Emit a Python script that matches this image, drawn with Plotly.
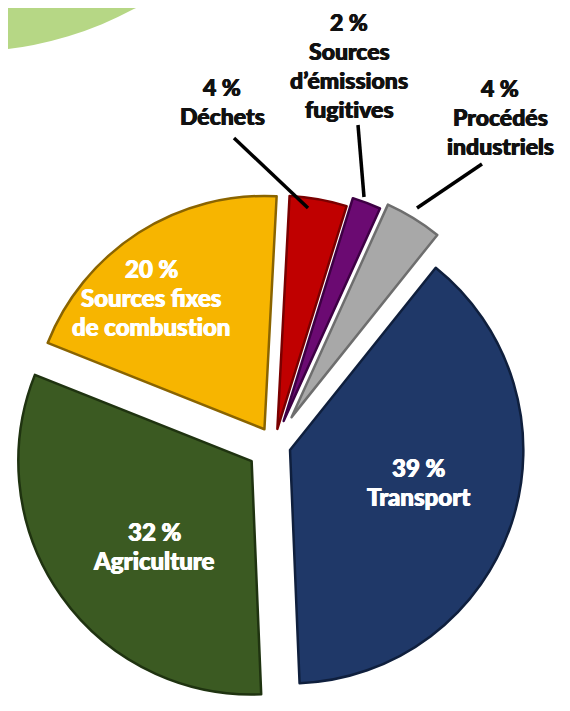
import plotly.graph_objects as go

# ---- data ----
categories = ["Déchets", "Sources d'émissions fugitives", "Procédés industriels",
              "Transport", "Agriculture", "Sources fixes de combustion"]
values = [4, 2, 4, 39, 32, 20]
ZW = "\u200c"  # zero-width non-joiner to avoid the "ti" ligature
label_lines = [
    ["4 %", "Déchets"],
    ["2 %", "Sources", "d’émissions", "fugit" + ZW + "ives"],
    ["4 %", "Procédés", "industriels"],
    ["39 %", "Transport"],
    ["32 %", "Agriculture"],
    ["20 %", "Sources fixes", "de combust" + ZW + "ion"],
]

# ---- style ----
colors = ["#c00000", "#6b0a72", "#a8a8a8", "#1f3868", "#3b5a22", "#f7b500"]
edge_colors = ["#7a0000", "#3e0044", "#6e6e6e", "#0f1f3d", "#1f3310", "#8a6400"]
pulls = [0.07, 0.11, 0.14, 0.07, 0.12, 0.08]
label_font_colors = ["#111111", "#111111", "#111111", "white", "white", "white"]
label_sizes = [23, 23, 23, 24, 24, 24]
# positions below are given in page pixels (the page body adds an 8px offset)
label_pos = [(222, 87), (349, 22), (500, 88), (418, 468), (154, 531), (151, 268)]
line_gap = 29
leader_lines = [((234, 138), (308, 208)), ((358, 125), (364, 197)), ((482, 164), (417, 208))]

OFF = 8
W, H = 570 - OFF, 711 - OFF
PIE_X = (OFF, 541)
PIE_Y = (179, 711)

def px(x, y):
    return (x - OFF) / W, 1 - (y - OFF) / H

fig = go.Figure()
fig.add_trace(go.Pie(
    labels=categories, values=values, sort=False, direction="clockwise", rotation=3,
    pull=pulls, textinfo="none", hoverinfo="label+percent",
    marker=dict(colors=colors, line=dict(color=edge_colors, width=2.5)),
    domain=dict(x=[px(PIE_X[0], 0)[0], px(PIE_X[1], 0)[0]],
                y=[max(0, px(0, PIE_Y[1])[1]), px(0, PIE_Y[0])[1]]),
    showlegend=False,
))

annotations = []
for lines, (cx, cy), fc, fs in zip(label_lines, label_pos, label_font_colors, label_sizes):
    for i, t in enumerate(lines):
        x, y = px(cx, cy + i * line_gap)
        annotations.append(dict(
            x=x, y=y, xref="paper", yref="paper", text=t, showarrow=False,
            xanchor="center", yanchor="middle",
            font=dict(family="Lato", size=fs, color=fc, weight=900,
                      shadow=f"0.5px 0 0 {fc}, -0.5px 0 0 {fc}")))

shapes = []
# decorative green arc in the top-left corner
cxp, cyp, rr = -37.5, -312.5, 364.4
x0, y0 = px(cxp - rr, cyp + rr)
x1, y1 = px(cxp + rr, cyp - rr)
shapes.append(dict(type="circle", xref="paper", yref="paper", x0=x0, y0=y0, x1=x1, y1=y1,
                   fillcolor="#b6d785", line=dict(width=0), layer="below"))
for (a, b) in leader_lines:
    xa, ya = px(*a)
    xb, yb = px(*b)
    shapes.append(dict(type="line", xref="paper", yref="paper", x0=xa, y0=ya, x1=xb, y1=yb,
                       line=dict(color="black", width=3.5), layer="above"))

fig.update_layout(width=W, height=H, margin=dict(l=0, r=0, t=0, b=0),
                  paper_bgcolor="white", plot_bgcolor="white",
                  annotations=annotations, shapes=shapes)
fig.write_html("out.html")
